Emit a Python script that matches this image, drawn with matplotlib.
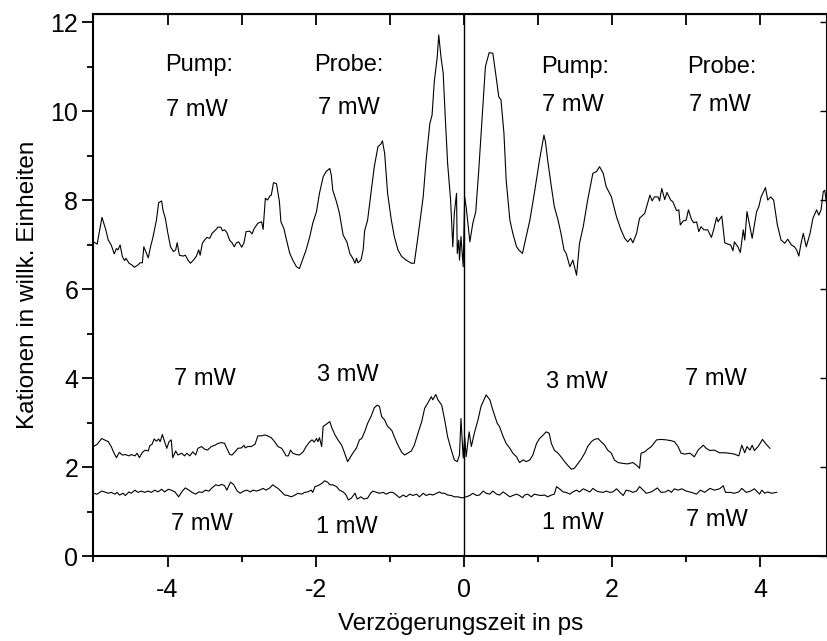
import matplotlib
matplotlib.use("Agg")
import matplotlib.pyplot as plt
from matplotlib.ticker import MultipleLocator

plt.rcParams['font.family'] = ['Liberation Sans', 'DejaVu Sans']
plt.rcParams['axes.unicode_minus'] = False

# ---- data ----
top_delay = [-5.0, -4.95, -4.885, -4.835, -4.80, -4.76, -4.72, -4.69, -4.67, -4.64, -4.61, -4.58, -4.56, -4.52,
             -4.48, -4.45, -4.40, -4.37, -4.34, -4.32, -4.26, -4.23, -4.20, -4.15, -4.12, -4.08, -4.06, -4.03,
             -4.00, -3.96, -3.92, -3.89, -3.87, -3.84, -3.79, -3.76, -3.72, -3.69, -3.65, -3.61, -3.58, -3.56,
             -3.53, -3.50, -3.47, -3.43, -3.40, -3.35, -3.32, -3.28, -3.26, -3.23, -3.20, -3.16, -3.13, -3.10,
             -3.07, -3.04, -3.00, -2.97, -2.94, -2.89, -2.86, -2.83, -2.78, -2.73, -2.71, -2.68, -2.65, -2.62,
             -2.60, -2.57, -2.53, -2.49, -2.47, -2.43, -2.40, -2.35, -2.31, -2.26, -2.22, -2.17, -2.13, -2.08,
             -2.04, -1.99, -1.95, -1.90, -1.86, -1.81, -1.79, -1.77, -1.72, -1.68, -1.63, -1.58, -1.54, -1.50,
             -1.47, -1.45, -1.43, -1.39, -1.36, -1.34, -1.30, -1.25, -1.21, -1.16, -1.12, -1.10, -1.07, -1.03,
             -0.98, -0.94, -0.89, -0.84, -0.78, -0.71, -0.67, -0.62, -0.55, -0.51, -0.46, -0.43, -0.40, -0.36,
             -0.34, -0.31, -0.28, -0.25, -0.22, -0.18, -0.15, -0.13, -0.10, -0.09, -0.07, -0.06, -0.04, -0.01,
             0.01, 0.03, 0.08, 0.12, 0.16, 0.20, 0.25, 0.29, 0.34, 0.39, 0.44, 0.47, 0.50, 0.54, 0.57, 0.62,
             0.66, 0.71, 0.74, 0.79, 0.83, 0.89, 0.95, 1.02, 1.08, 1.10, 1.13, 1.18, 1.22, 1.27, 1.31, 1.35,
             1.38, 1.43, 1.47, 1.52, 1.56, 1.61, 1.67, 1.74, 1.79, 1.83, 1.88, 1.92, 1.99, 2.06, 2.12, 2.17,
             2.21, 2.25, 2.28, 2.33, 2.37, 2.44, 2.51, 2.54, 2.57, 2.62, 2.64, 2.67, 2.71, 2.74, 2.79, 2.82,
             2.87, 2.90, 2.92, 2.96, 3.00, 3.03, 3.07, 3.10, 3.14, 3.17, 3.20, 3.24, 3.29, 3.34, 3.37, 3.41,
             3.43, 3.48, 3.52, 3.56, 3.60, 3.63, 3.65, 3.70, 3.73, 3.77, 3.79, 3.82, 3.86, 3.89, 3.95, 3.98,
             4.01, 4.07, 4.10, 4.14, 4.18, 4.23, 4.28, 4.33, 4.37, 4.42, 4.46, 4.49, 4.52, 4.55, 4.58, 4.62,
             4.67, 4.71, 4.76, 4.79, 4.82, 4.85, 4.87, 4.89]
top_signal = [7.06, 7.01, 7.61, 7.34, 7.10, 6.99, 6.79, 6.91, 6.88, 6.99, 6.73, 6.64, 6.69, 6.58,
              6.54, 6.49, 6.54, 6.59, 6.59, 6.95, 6.70, 6.95, 7.14, 7.55, 7.94, 7.98, 7.76, 7.59,
              7.29, 6.95, 6.84, 6.88, 7.04, 6.76, 6.74, 6.76, 6.64, 6.58, 6.65, 6.74, 6.88, 6.76,
              7.03, 7.10, 7.16, 7.14, 7.25, 7.33, 7.39, 7.39, 7.31, 7.33, 7.27, 7.09, 7.04, 6.95,
              7.04, 7.06, 6.94, 7.03, 7.29, 7.30, 7.24, 7.36, 7.48, 7.51, 7.34, 8.04, 8.00, 8.09,
              8.11, 8.39, 8.37, 7.96, 7.51, 7.36, 7.14, 6.80, 6.65, 6.50, 6.46, 6.69, 6.88, 7.18,
              7.48, 7.74, 8.15, 8.52, 8.64, 8.71, 8.56, 8.22, 7.96, 7.70, 7.21, 7.06, 6.80, 6.69,
              6.58, 6.69, 6.59, 6.65, 6.88, 7.31, 7.55, 8.22, 8.75, 9.20, 9.26, 9.33, 9.05, 8.15,
              7.55, 7.18, 6.88, 6.73, 6.65, 6.58, 6.58, 7.18, 8.07, 8.90, 9.72, 9.91, 10.66, 11.22,
              11.71, 11.22, 10.85, 9.80, 8.82, 8.00, 6.95, 7.70, 8.15, 6.80, 7.10, 6.65, 7.18, 6.50,
              8.07, 7.85, 7.06, 7.48, 7.74, 8.67, 9.95, 11.00, 11.31, 11.30, 10.70, 10.32, 10.25, 9.50, 8.45, 7.55,
              7.25, 6.95, 6.88, 6.80, 7.10, 7.55, 8.15, 8.90, 9.46, 9.31, 8.90, 8.30, 7.85, 7.55, 7.25, 6.88,
              6.80, 6.50, 6.65, 6.31, 7.03, 7.40, 8.00, 8.60, 8.64, 8.75, 8.60, 8.30, 8.07, 7.62, 7.33, 7.14,
              7.06, 7.14, 7.04, 7.25, 7.59, 7.70, 8.11, 7.98, 8.07, 8.07, 7.98, 8.26, 8.01, 8.17, 8.00, 7.96,
              7.76, 7.78, 7.44, 7.53, 7.55, 7.78, 7.57, 7.49, 7.51, 7.29, 7.40, 7.33, 7.33, 7.16, 7.33, 7.61,
              7.51, 7.64, 7.04, 7.01, 6.99, 6.86, 7.06, 6.94, 6.82, 7.33, 7.10, 7.74, 7.40, 7.14, 7.74, 7.85,
              8.07, 8.28, 8.00, 8.07, 8.00, 7.44, 7.10, 7.03, 7.12, 6.99, 6.95, 6.88, 6.74, 7.03, 7.25, 6.95,
              7.24, 7.59, 7.78, 7.66, 7.78, 8.19, 8.22, 7.96]

mid_delay = [-5.0, -4.95, -4.89, -4.85, -4.80, -4.76, -4.73, -4.69, -4.65, -4.61, -4.57, -4.52, -4.49, -4.44,
             -4.41, -4.38, -4.34, -4.30, -4.26, -4.24, -4.21, -4.18, -4.15, -4.12, -4.10, -4.07, -4.04, -4.01,
             -3.98, -3.95, -3.93, -3.89, -3.86, -3.81, -3.77, -3.74, -3.70, -3.66, -3.62, -3.59, -3.54, -3.50,
             -3.46, -3.41, -3.36, -3.32, -3.27, -3.23, -3.20, -3.16, -3.13, -3.09, -3.05, -3.00, -2.97, -2.95,
             -2.92, -2.87, -2.82, -2.78, -2.73, -2.69, -2.65, -2.60, -2.555, -2.51, -2.46, -2.43, -2.40, -2.37,
             -2.34, -2.31, -2.26, -2.22, -2.17, -2.13, -2.08, -2.05, -2.02, -1.99, -1.97, -1.95, -1.92, -1.90,
             -1.86, -1.81, -1.78, -1.74, -1.70, -1.65, -1.61, -1.57, -1.54, -1.50, -1.45, -1.41, -1.38, -1.34,
             -1.30, -1.25, -1.21, -1.17, -1.14, -1.11, -1.07, -1.03, -1.00, -0.97, -0.94, -0.89, -0.84, -0.80,
             -0.76, -0.71, -0.67, -0.62, -0.57, -0.53, -0.49, -0.44, -0.42, -0.38, -0.35, -0.30, -0.26, -0.22,
             -0.17, -0.13, -0.09, -0.06, -0.04, -0.01, 0.01, 0.03, 0.07, 0.10, 0.14, 0.19, 0.23, 0.30, 0.35,
             0.39, 0.45, 0.48, 0.53, 0.57, 0.62, 0.66, 0.71, 0.75, 0.80, 0.84, 0.89, 0.93, 0.98, 1.02, 1.07,
             1.11, 1.15, 1.18, 1.22, 1.27, 1.31, 1.36, 1.40, 1.45, 1.49, 1.54, 1.58, 1.63, 1.67, 1.72, 1.76,
             1.81, 1.85, 1.90, 1.94, 1.99, 2.03, 2.08, 2.15, 2.21, 2.28, 2.33, 2.37, 2.39, 2.44, 2.48, 2.53,
             2.60, 2.66, 2.73, 2.80, 2.84, 2.89, 2.93, 2.98, 3.05, 3.11, 3.16, 3.23, 3.27, 3.32, 3.38, 3.45,
             3.52, 3.58, 3.65, 3.71, 3.75, 3.79, 3.82, 3.86, 3.89, 3.92, 3.97, 4.03, 4.07, 4.13]
mid_signal = [2.46, 2.51, 2.64, 2.61, 2.57, 2.46, 2.34, 2.21, 2.33, 2.27, 2.28, 2.25, 2.28, 2.25,
              2.31, 2.21, 2.33, 2.38, 2.36, 2.48, 2.51, 2.63, 2.58, 2.63, 2.57, 2.73, 2.57, 2.42,
              2.57, 2.61, 2.21, 2.36, 2.27, 2.31, 2.25, 2.31, 2.25, 2.34, 2.27, 2.42, 2.46, 2.40,
              2.38, 2.46, 2.49, 2.53, 2.55, 2.53, 2.42, 2.28, 2.27, 2.34, 2.42, 2.43, 2.49, 2.43,
              2.46, 2.46, 2.51, 2.70, 2.70, 2.72, 2.70, 2.66, 2.57, 2.46, 2.42, 2.34, 2.25, 2.25,
              2.38, 2.31, 2.28, 2.27, 2.34, 2.46, 2.57, 2.61, 2.56, 2.64, 2.57, 2.66, 2.46, 2.91,
              2.96, 3.02, 2.87, 2.72, 2.61, 2.49, 2.31, 2.12, 2.20, 2.31, 2.43, 2.61, 2.64, 2.79,
              2.98, 3.15, 3.33, 3.39, 3.36, 3.13, 3.06, 2.91, 2.87, 2.81, 2.68, 2.49, 2.33, 2.27,
              2.31, 2.36, 2.49, 2.76, 3.02, 3.32, 3.43, 3.58, 3.51, 3.63, 3.51, 3.39, 3.06, 2.68,
              2.38, 2.16, 2.12, 2.27, 3.09, 2.20, 2.68, 2.23, 2.79, 2.46, 2.76, 3.06, 3.36, 3.62, 3.51,
              3.28, 2.98, 2.91, 2.68, 2.53, 2.42, 2.31, 2.23, 2.10, 2.16, 2.12, 2.16, 2.27, 2.53, 2.64, 2.72,
              2.79, 2.76, 2.53, 2.38, 2.31, 2.23, 2.12, 2.04, 1.95, 1.97, 2.08, 2.17, 2.31, 2.46, 2.57, 2.62,
              2.64, 2.57, 2.49, 2.38, 2.31, 2.16, 2.10, 2.08, 2.07, 2.10, 2.04, 1.97, 2.31, 2.34, 2.40, 2.46,
              2.61, 2.62, 2.61, 2.59, 2.57, 2.46, 2.31, 2.29, 2.31, 2.23, 2.38, 2.49, 2.42, 2.37, 2.38, 2.32,
              2.32, 2.31, 2.29, 2.25, 2.49, 2.32, 2.46, 2.38, 2.49, 2.37, 2.46, 2.62, 2.53, 2.42]

low_delay = [-5.0, -4.95, -4.89, -4.85, -4.80, -4.76, -4.71, -4.68, -4.65, -4.60, -4.57, -4.52, -4.49, -4.44,
             -4.40, -4.35, -4.31, -4.26, -4.22, -4.17, -4.13, -4.08, -4.04, -3.99, -3.95, -3.90, -3.85, -3.80,
             -3.76, -3.71, -3.67, -3.62, -3.58, -3.53, -3.49, -3.44, -3.40, -3.35, -3.31, -3.27, -3.23, -3.20,
             -3.15, -3.11, -3.06, -3.02, -2.97, -2.93, -2.88, -2.85, -2.80, -2.76, -2.71, -2.67, -2.62, -2.58,
             -2.54, -2.51, -2.46, -2.42, -2.38, -2.33, -2.28, -2.24, -2.19, -2.15, -2.11, -2.06, -2.04, -2.01,
             -1.97, -1.92, -1.88, -1.84, -1.81, -1.77, -1.72, -1.68, -1.63, -1.59, -1.56, -1.52, -1.47, -1.44,
             -1.39, -1.35, -1.30, -1.26, -1.23, -1.18, -1.14, -1.09, -1.05, -1.00, -0.96, -0.91, -0.87, -0.82,
             -0.78, -0.73, -0.69, -0.64, -0.60, -0.55, -0.51, -0.46, -0.42, -0.37, -0.33, -0.30, -0.26, -0.22,
             -0.17, -0.13, -0.08, -0.04, -0.01, 0.03, 0.08, 0.12, 0.17, 0.21, 0.26, 0.30, 0.35, 0.39, 0.44,
             0.48, 0.53, 0.57, 0.62, 0.66, 0.71, 0.75, 0.79, 0.82, 0.86, 0.91, 0.95, 1.00, 1.04, 1.09, 1.13,
             1.18, 1.22, 1.25, 1.29, 1.34, 1.38, 1.43, 1.47, 1.52, 1.56, 1.61, 1.65, 1.70, 1.74, 1.79, 1.83,
             1.88, 1.92, 1.97, 2.01, 2.06, 2.10, 2.15, 2.19, 2.24, 2.28, 2.33, 2.37, 2.42, 2.46, 2.51, 2.55,
             2.61, 2.66, 2.72, 2.76, 2.80, 2.84, 2.89, 2.94, 3.00, 3.07, 3.14, 3.19, 3.25, 3.32, 3.38, 3.45,
             3.50, 3.53, 3.59, 3.65, 3.71, 3.75, 3.81, 3.87, 3.92, 3.99, 4.02, 4.06, 4.10, 4.15, 4.22]
low_signal = [1.41, 1.39, 1.46, 1.44, 1.41, 1.43, 1.39, 1.43, 1.37, 1.41, 1.36, 1.44, 1.41, 1.48,
              1.43, 1.46, 1.43, 1.46, 1.43, 1.48, 1.44, 1.50, 1.44, 1.50, 1.48, 1.44, 1.33, 1.46,
              1.53, 1.48, 1.43, 1.39, 1.44, 1.43, 1.48, 1.46, 1.53, 1.60, 1.58, 1.61, 1.58, 1.48,
              1.66, 1.61, 1.46, 1.41, 1.46, 1.48, 1.44, 1.48, 1.46, 1.48, 1.52, 1.48, 1.53, 1.60,
              1.55, 1.52, 1.44, 1.37, 1.36, 1.33, 1.37, 1.41, 1.39, 1.43, 1.44, 1.48, 1.43, 1.56,
              1.58, 1.63, 1.69, 1.66, 1.60, 1.60, 1.56, 1.48, 1.44, 1.37, 1.26, 1.30, 1.41, 1.28,
              1.33, 1.28, 1.30, 1.41, 1.46, 1.43, 1.41, 1.43, 1.39, 1.43, 1.43, 1.37, 1.31, 1.37,
              1.33, 1.39, 1.36, 1.39, 1.33, 1.41, 1.36, 1.39, 1.37, 1.41, 1.44, 1.41, 1.41, 1.37,
              1.36, 1.33, 1.33, 1.31, 1.31, 1.33, 1.36, 1.41, 1.36, 1.37, 1.46, 1.41, 1.39, 1.46, 1.39,
              1.37, 1.44, 1.39, 1.33, 1.36, 1.39, 1.36, 1.31, 1.37, 1.39, 1.33, 1.39, 1.37, 1.36, 1.37, 1.33,
              1.37, 1.39, 1.56, 1.51, 1.44, 1.43, 1.39, 1.44, 1.48, 1.44, 1.51, 1.48, 1.44, 1.52, 1.46, 1.44,
              1.43, 1.46, 1.43, 1.44, 1.51, 1.44, 1.36, 1.48, 1.46, 1.43, 1.46, 1.56, 1.48, 1.41, 1.43, 1.46,
              1.53, 1.43, 1.44, 1.48, 1.43, 1.51, 1.48, 1.51, 1.46, 1.43, 1.39, 1.48, 1.43, 1.52, 1.48, 1.51,
              1.58, 1.43, 1.43, 1.41, 1.44, 1.52, 1.43, 1.46, 1.51, 1.39, 1.48, 1.41, 1.44, 1.41, 1.43]

# annotation texts: (label, delay, signal)
annotations = [
    ("Pump:", -3.57, 11.03), ("7 mW", -3.60, 10.02), ("Probe:", -1.55, 11.03), ("7 mW", -1.55, 10.07),
    ("Pump:", 1.50, 10.98), ("7 mW", 1.47, 10.13), ("Probe:", 3.48, 10.98), ("7 mW", 3.45, 10.13),
    ("7 mW", -3.50, 3.98), ("3 mW", -1.57, 4.07), ("3 mW", 1.52, 3.91), ("7 mW", 3.40, 3.98),
    ("7 mW", -3.54, 0.72), ("1 mW", -1.58, 0.65), ("1 mW", 1.47, 0.74), ("7 mW", 3.42, 0.81),
]

x_label = "Verzögerungszeit in ps"
y_label = "Kationen in willk. Einheiten"

# ---- figure ----
fig = plt.figure(figsize=(8.27, 6.41), dpi=100)
ax = fig.add_axes([0.113, 0.1326, 0.887, 0.8455])

lw = 0.8
ax.plot(top_delay, top_signal, color='black', lw=lw)
ax.plot(mid_delay, mid_signal, color='black', lw=lw)
ax.plot(low_delay, low_signal, color='black', lw=lw)
ax.axvline(0, color='black', lw=1.0)

ax.set_xlim(-5, 4.9)
ax.set_ylim(0, 12.18)

fs_text = 17
fs_label = 17.5
fs_tick = 18
for txt, xx, yy in annotations:
    ax.text(xx, yy, txt, ha='center', va='center', fontsize=fs_text)

ax.set_xlabel(x_label, fontsize=fs_label, labelpad=8)
ax.set_ylabel(y_label, fontsize=fs_label, labelpad=8)

ax.xaxis.set_major_locator(MultipleLocator(2))
ax.xaxis.set_minor_locator(MultipleLocator(1))
ax.yaxis.set_major_locator(MultipleLocator(2))
ax.yaxis.set_minor_locator(MultipleLocator(1))
ax.tick_params(which='major', direction='out', length=8, width=1.3, labelsize=fs_tick, pad=3)
ax.tick_params(axis='x', which='major', pad=8)
ax.tick_params(which='minor', direction='out', length=4, width=1.3)

for s in ax.spines.values():
    s.set_linewidth(1.5)

secx = ax.secondary_xaxis('top')
secx.xaxis.set_major_locator(MultipleLocator(1))
secx.tick_params(direction='in', length=8, width=1.3, labeltop=False)
secy = ax.secondary_yaxis('right')
secy.yaxis.set_major_locator(MultipleLocator(2))
secy.yaxis.set_minor_locator(MultipleLocator(1))
secy.tick_params(which='major', direction='in', length=5, width=1.0, labelright=False)
secy.tick_params(which='minor', length=0)

fig.savefig("out.png", dpi=100)
